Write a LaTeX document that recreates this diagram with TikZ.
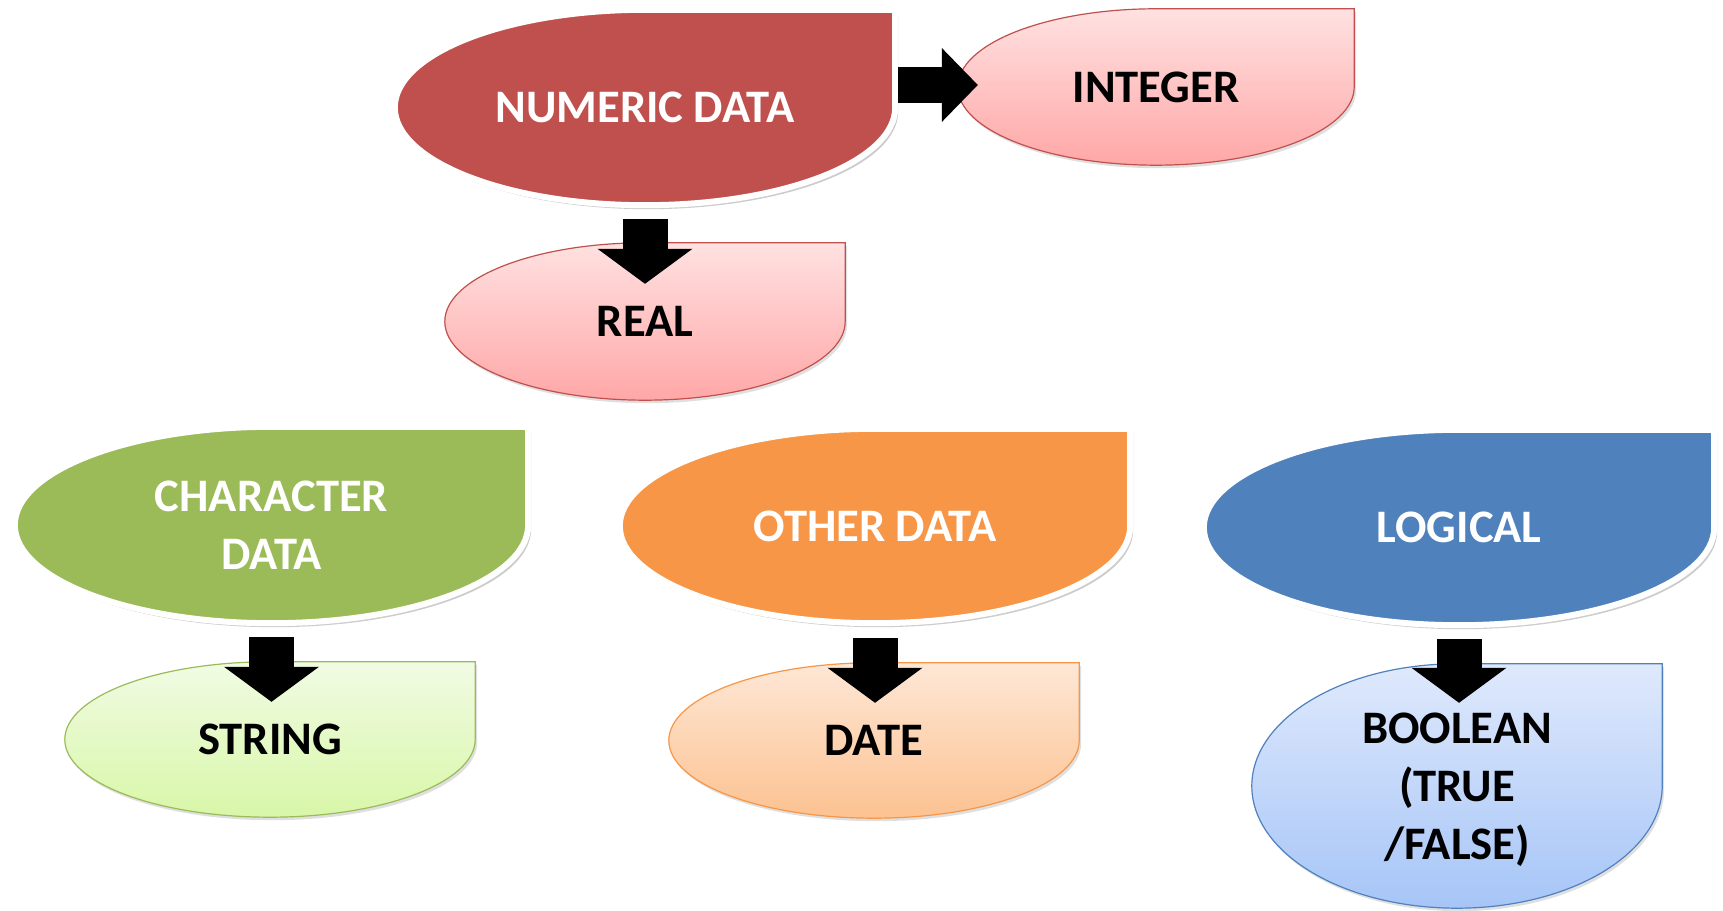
\documentclass[tikz,border=0pt]{standalone}
\usepackage{fontspec}
\setmainfont{Carlito}
\usetikzlibrary{arrows.meta,calc,shadows,backgrounds}

\definecolor{numred}{HTML}{C0504D}
\definecolor{chargreen}{HTML}{9BBB59}
\definecolor{othorange}{HTML}{F79646}
\definecolor{logblue}{HTML}{4F81BD}
\definecolor{redtop}{HTML}{FFE1E1}
\definecolor{redbot}{HTML}{FFA7A7}
\definecolor{greentop}{HTML}{F1FBE4}
\definecolor{greenbot}{HTML}{D8F7A8}
\definecolor{orangetop}{HTML}{FEE7D6}
\definecolor{orangebot}{HTML}{FCC291}
\definecolor{bluetop}{HTML}{DFE9FC}
\definecolor{bluebot}{HTML}{A6C5F7}

% ellipse with a square top right corner, drawn round a node
\newcommand{\teardrop}[2]{
  \path[#2] let \p1=(#1.north east), \p2=(#1.south west) in
    (#1.north east) -- (#1.east)
    arc[start angle=0, end angle=-180, x radius={(\x1-\x2)/2}, y radius={(\y1-\y2)/2}]
    arc[start angle=180, end angle=90, x radius={(\x1-\x2)/2}, y radius={(\y1-\y2)/2}]
    -- cycle;
}

\begin{document}
\begin{tikzpicture}[
    x=1pt, y=1pt,
    tdtext/.style={font=\fontsize{46.6}{58}\selectfont\bfseries, align=center, inner sep=0pt},
    big/.style={tdtext, text=white},
    small/.style={tdtext, text=black},
    bigdrop/.style={fill=#1, draw=white, line width=6pt,
        drop shadow={shadow xshift=3pt, shadow yshift=-4pt, opacity=.4}},
    smalldrop/.style n args={3}{top color=#1, bottom color=#2, draw=#3, line width=1.2pt,
        drop shadow={shadow xshift=2pt, shadow yshift=-3pt, opacity=.25}},
    fatarrow/.style={line width=45pt, -{Triangle[length=35pt, width=95pt, line width=0pt]}},
    sidearrow/.style={line width=36pt, -{Triangle[length=36pt, width=74pt, line width=0pt]}}
]
\useasboundingbox (0,0) rectangle (1723,910);

\node[big, minimum width=500pt, minimum height=195pt] (num) at (645,802.5) {NUMERIC DATA};
\node[small, minimum width=396pt, minimum height=156pt] (int) at (1156,823) {INTEGER};
\node[small, minimum width=400pt, minimum height=157pt] (real) at (645,588.5) {REAL};

\node[big, minimum width=513pt, minimum height=196pt] (char) at (271.5,385) {CHARACTER\\DATA};
\node[big, minimum width=510pt, minimum height=194pt] (other) at (875,384) {OTHER DATA};
\node[big, minimum width=510pt, minimum height=195pt] (logic) at (1459,382.5) {LOGICAL};

\node[small, minimum width=410pt, minimum height=155pt] (string) at (270,170.5) {STRING};
\node[small, minimum width=410pt, minimum height=155pt] (date) at (874,169.5) {DATE};
\node[small, minimum width=410pt, minimum height=244pt, text depth=0pt] (bool) at (1457,124) {BOOLEAN\\(TRUE\\/FALSE)};

\begin{scope}[on background layer]
\fill[white] (0,0) rectangle (1723,910);
\teardrop{num}{bigdrop=numred}
\teardrop{int}{smalldrop={redtop}{redbot}{numred}}
\teardrop{real}{smalldrop={redtop}{redbot}{numred}}
\teardrop{char}{bigdrop=chargreen}
\teardrop{other}{bigdrop=othorange}
\teardrop{logic}{bigdrop=logblue}
\teardrop{string}{smalldrop={greentop}{greenbot}{chargreen}}
\teardrop{date}{smalldrop={orangetop}{orangebot}{othorange}}
\teardrop{bool}{smalldrop={bluetop}{bluebot}{logblue}}
\end{scope}

\draw[sidearrow] ($(num.east |- int.west)+(3,2)$) -- ($(int.west)+(20,2)$);
\draw[fatarrow] ($(num.south)+(0,-14)$) -- ($(num.south |- real.north)+(0,-41)$);
\draw[fatarrow] ($(char.south)+(0,-14)$) -- ($(char.south |- string.north)+(0,-40)$);
\draw[fatarrow] ($(other.south)+(0,-15)$) -- ($(other.south |- date.north)+(0,-40)$);
\draw[fatarrow] ($(logic.south)+(0,-14)$) -- ($(logic.south |- bool.north)+(0,-39)$);
\end{tikzpicture}
\end{document}
